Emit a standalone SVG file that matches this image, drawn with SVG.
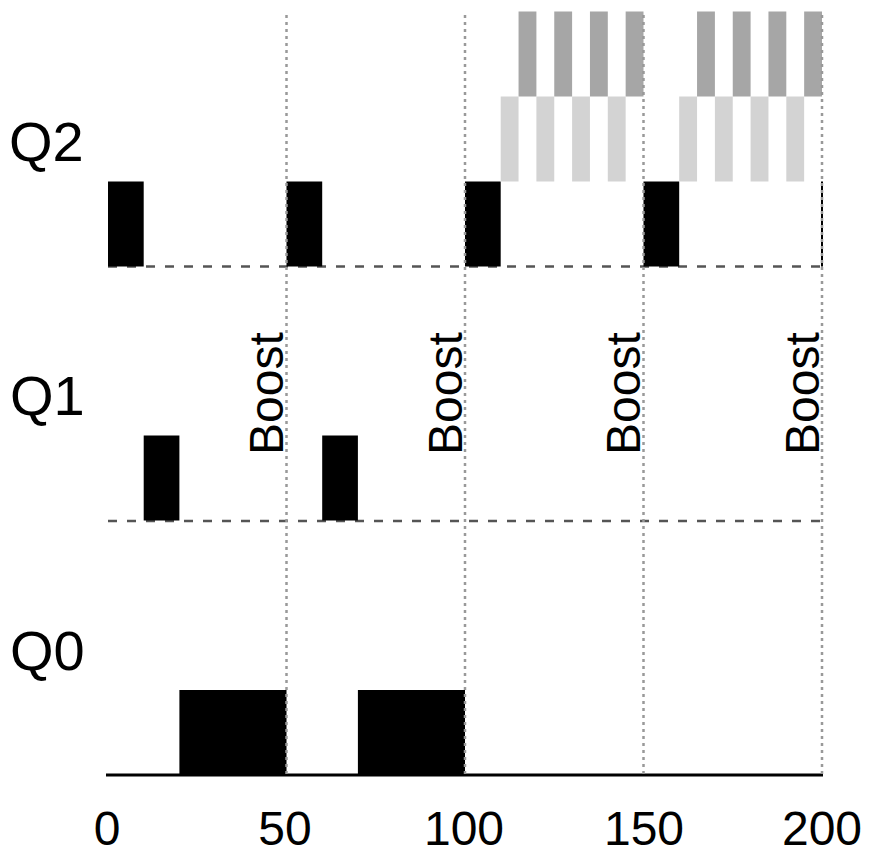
<svg xmlns="http://www.w3.org/2000/svg" width="872" height="864" viewBox="0 0 872 864">
<style>
.lbl{font-family:"Liberation Sans",Arial,sans-serif;font-size:48px;fill:#000}
.q{font-family:"Liberation Sans",Arial,sans-serif;font-size:56px;fill:#000}
.blk{fill:#000}
.lt{fill:#d3d3d3}
.dk{fill:#a6a6a6}
.dash{stroke:#555;stroke-width:2.5;stroke-dasharray:9 10;fill:none}
.dot{stroke:#999;stroke-width:2.5;stroke-dasharray:3 4;fill:none}
.base{stroke:#000;stroke-width:3;fill:none}
</style>
<rect width="872" height="864" fill="#fff"/>
<g id="queue-labels">
<text class="q" x="9" y="161">Q2</text>
<text class="q" x="10" y="415">Q1</text>
<text class="q" x="10" y="670">Q0</text>
</g>
<g id="baselines">
<line class="dash" x1="108" y1="266.5" x2="822" y2="266.5"/>
<line class="dash" x1="108" y1="521" x2="822" y2="521"/>
<line class="base" x1="106" y1="775" x2="823" y2="775"/>
</g>
<g id="q2-jobs">
<rect class="blk" x="108" y="181.5" width="35.7" height="85"/>
<rect class="blk" x="286.5" y="181.5" width="35.7" height="85"/>
<rect class="blk" x="465" y="181.5" width="35.7" height="85"/>
<rect class="blk" x="643.5" y="181.5" width="35.7" height="85"/>
<rect class="blk" x="821" y="181.5" width="2" height="85"/>
</g>
<g id="q2-light">
<rect class="lt" x="500.7" y="96.5" width="17.85" height="85"/>
<rect class="lt" x="536.4" y="96.5" width="17.85" height="85"/>
<rect class="lt" x="572.1" y="96.5" width="17.85" height="85"/>
<rect class="lt" x="607.8" y="96.5" width="17.85" height="85"/>
<rect class="lt" x="679.2" y="96.5" width="17.85" height="85"/>
<rect class="lt" x="714.9" y="96.5" width="17.85" height="85"/>
<rect class="lt" x="750.6" y="96.5" width="17.85" height="85"/>
<rect class="lt" x="786.3" y="96.5" width="17.85" height="85"/>
</g>
<g id="q2-dark">
<rect class="dk" x="518.55" y="11.5" width="17.85" height="85"/>
<rect class="dk" x="554.25" y="11.5" width="17.85" height="85"/>
<rect class="dk" x="589.95" y="11.5" width="17.85" height="85"/>
<rect class="dk" x="625.65" y="11.5" width="17.85" height="85"/>
<rect class="dk" x="697.05" y="11.5" width="17.85" height="85"/>
<rect class="dk" x="732.75" y="11.5" width="17.85" height="85"/>
<rect class="dk" x="768.45" y="11.5" width="17.85" height="85"/>
<rect class="dk" x="804.15" y="11.5" width="17.85" height="85"/>
</g>
<g id="q1-jobs">
<rect class="blk" x="143.7" y="435.5" width="35.7" height="85"/>
<rect class="blk" x="322.2" y="435.5" width="35.7" height="85"/>
</g>
<g id="q0-jobs">
<rect class="blk" x="179.4" y="690" width="107.1" height="85"/>
<rect class="blk" x="357.9" y="690" width="107.1" height="85"/>
</g>
<g id="boost-lines">
<line class="dot" x1="286.5" y1="15" x2="286.5" y2="775"/>
<line class="dot" x1="465" y1="15" x2="465" y2="775"/>
<line class="dot" x1="643.5" y1="15" x2="643.5" y2="775"/>
<line class="dot" x1="822" y1="15" x2="822" y2="775"/>
</g>
<g id="boost-labels">
<text class="lbl" transform="translate(283,455) rotate(-90)">Boost</text>
<text class="lbl" transform="translate(461.5,455) rotate(-90)">Boost</text>
<text class="lbl" transform="translate(640,455) rotate(-90)">Boost</text>
<text class="lbl" transform="translate(818.5,455) rotate(-90)">Boost</text>
</g>
<g id="axis-labels" text-anchor="middle">
<text class="lbl" x="107" y="845">0</text>
<text class="lbl" x="285" y="845">50</text>
<text class="lbl" x="464" y="845">100</text>
<text class="lbl" x="644" y="845">150</text>
<text class="lbl" x="822" y="845">200</text>
</g>
</svg>
